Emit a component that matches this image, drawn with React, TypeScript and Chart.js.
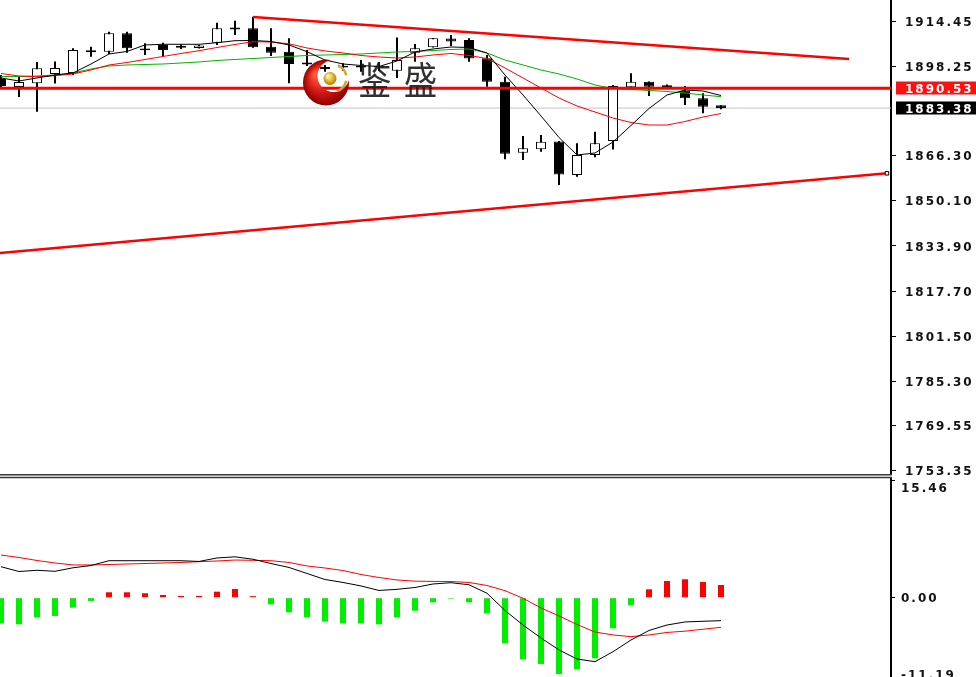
import React, { useEffect, useRef } from 'react';
import { Chart, registerables } from 'chart.js';

Chart.register(...registerables);

// ---------- data ----------
const barIndex = [0, 1, 2, 3, 4, 5, 6, 7, 8, 9, 10, 11, 12, 13, 14, 15, 16, 17, 18, 19, 20, 21, 22, 23, 24, 25, 26, 27, 28, 29, 30, 31, 32, 33, 34, 35, 36, 37, 38, 39, 40];
const openPrices = [1893.82, 1890.95, 1892.28, 1895.61, 1895.97, 1903.40, 1903.61, 1910.22, 1904.80, 1906.02, 1905.75, 1904.94, 1906.84, 1911.60, 1912.01, 1905.41, 1903.61, 1899.75, 1898.10, 1898.60, 1898.60, 1898.60, 1896.80, 1903.26, 1905.19, 1908.35, 1907.81, 1901.25, 1892.85, 1867.37, 1868.59, 1871.39, 1859.37, 1866.55, 1871.57, 1890.84, 1892.85, 1890.95, 1889.62, 1886.89, 1884.40];
const highPrices = [1895.25, 1894.64, 1899.92, 1900.10, 1904.83, 1905.41, 1910.79, 1910.79, 1906.63, 1906.84, 1906.20, 1906.02, 1914.02, 1914.74, 1916.17, 1912.01, 1908.42, 1904.22, 1898.84, 1899.45, 1900.64, 1899.92, 1908.71, 1906.38, 1908.53, 1909.61, 1908.42, 1902.43, 1894.64, 1873.37, 1873.73, 1871.57, 1870.75, 1874.91, 1891.67, 1895.86, 1892.92, 1891.84, 1891.31, 1888.69, 1884.40];
const lowPrices = [1890.59, 1887.36, 1882.09, 1892.20, 1895.25, 1901.82, 1902.79, 1903.26, 1902.43, 1901.82, 1904.58, 1904.76, 1906.02, 1909.61, 1905.05, 1902.07, 1892.28, 1898.48, 1896.44, 1896.80, 1896.44, 1896.69, 1894.18, 1900.03, 1905.12, 1905.66, 1900.03, 1891.06, 1865.01, 1864.76, 1867.73, 1855.78, 1858.76, 1865.72, 1868.52, 1890.12, 1887.72, 1890.77, 1884.49, 1881.51, 1882.95];
const closePrices = [1891.31, 1892.74, 1897.66, 1897.77, 1904.22, 1904.10, 1910.22, 1904.83, 1904.10, 1904.22, 1905.05, 1905.84, 1912.01, 1912.30, 1905.19, 1903.26, 1899.20, 1899.05, 1897.40, 1897.90, 1897.90, 1897.90, 1900.64, 1904.83, 1908.42, 1907.27, 1901.17, 1892.85, 1867.02, 1868.95, 1871.32, 1859.55, 1866.55, 1870.75, 1891.31, 1892.85, 1891.06, 1891.60, 1886.89, 1883.88, 1883.38];

const maFast = [1894.18, 1893.10, 1894.18, 1895.25, 1895.97, 1899.20, 1902.79, 1903.69, 1906.02, 1906.27, 1906.27, 1906.27, 1906.84, 1907.56, 1907.63, 1907.27, 1906.02, 1903.61, 1900.64, 1899.20, 1898.66, 1898.30, 1900.28, 1903.51, 1904.58, 1905.30, 1905.12, 1903.15, 1895.25, 1888.08, 1880.54, 1872.83, 1866.55, 1867.27, 1871.21, 1877.13, 1883.23, 1888.08, 1889.87, 1889.51, 1887.90];
const maMid = [1895.79, 1894.89, 1894.64, 1895.00, 1895.61, 1897.05, 1898.84, 1899.74, 1900.82, 1901.89, 1902.97, 1903.97, 1905.12, 1906.20, 1907.20, 1907.09, 1906.45, 1904.94, 1903.87, 1903.15, 1902.25, 1901.71, 1901.35, 1901.71, 1902.43, 1902.97, 1902.25, 1901.17, 1897.77, 1894.18, 1890.59, 1887.00, 1884.13, 1881.98, 1879.82, 1878.21, 1877.31, 1877.31, 1878.57, 1880.18, 1881.44];
const maSlow = [1894.72, 1894.72, 1894.89, 1895.25, 1895.97, 1897.41, 1898.48, 1898.84, 1899.02, 1899.20, 1899.56, 1899.92, 1900.46, 1900.82, 1901.17, 1901.53, 1901.89, 1902.25, 1902.43, 1902.61, 1902.79, 1903.15, 1903.51, 1903.69, 1904.04, 1904.40, 1904.58, 1903.15, 1900.64, 1898.84, 1897.05, 1895.61, 1893.82, 1891.67, 1890.41, 1890.05, 1889.69, 1889.33, 1888.80, 1888.08, 1887.47];

const priceTicks = [1914.45, 1898.25, 1866.30, 1850.10, 1833.90, 1817.70, 1801.50, 1785.30, 1769.55, 1753.35];
const resistanceLevel = 1890.53;
const lastPrice = 1883.38;
const upperTrendBars = [14, 47.11];
const upperTrendPrices = [1916.06, 1900.99];
const lowerTrendBars = [-0.06, 49.22];
const lowerTrendPrices = [1831.39, 1859.98];

const macdHist = [-3.37, -3.50, -2.58, -2.40, -1.31, -0.43, 0.71, 0.71, 0.58, 0.35, 0.22, 0.22, 0.79, 1.14, 0.20, -0.87, -1.92, -2.58, -3.15, -3.37, -3.37, -3.50, -2.58, -1.71, -0.61, -0.13, -0.61, -2.05, -6.00, -8.10, -8.71, -10.03, -9.41, -7.96, -4.02, -0.96, 1.10, 2.19, 2.42, 2.06, 1.67];
const macdMain = [4.07, 3.44, 3.60, 3.47, 3.93, 4.23, 4.86, 4.86, 4.86, 4.86, 4.86, 4.76, 5.22, 5.37, 5.05, 4.49, 3.97, 3.18, 2.39, 2.00, 1.54, 0.95, 1.10, 1.34, 1.80, 1.97, 1.70, 0.58, -1.68, -3.59, -5.30, -6.87, -8.06, -8.41, -7.10, -5.56, -4.31, -3.59, -3.19, -3.10, -3.02];
const macdSignal = [5.61, 5.28, 4.89, 4.56, 4.30, 4.30, 4.36, 4.43, 4.49, 4.56, 4.63, 4.73, 4.82, 4.95, 4.91, 4.86, 4.63, 4.17, 3.90, 3.57, 3.05, 2.65, 2.33, 2.17, 2.14, 2.12, 2.00, 1.60, 0.92, -0.08, -1.35, -2.40, -3.52, -4.51, -4.90, -5.12, -4.90, -4.57, -4.40, -4.15, -3.89];
const macdTicks = [15.46, 0, -11.19];

// ---------- styling helpers ----------
const AXIS_FONT = { family: 'DejaVu Sans', size: 12, weight: 'bold' as const };
const AXIS_FONT_STR = 'bold 12px "DejaVu Sans"';
const X_MIN = -1 / 18;
const X_MAX = 890 / 18;

const pts = (ys: number[]) => barIndex.map((i) => ({ x: i, y: ys[i] }));

const mainPlugin = {
  id: 'mainDecor',
  beforeDraw(chart: any) {
    chart.ctx.letterSpacing = '2px';
  },
  afterDatasetsDraw(chart: any) {
    const ctx = chart.ctx;
    // watermark logo (transparent inner part)
    ctx.save();
    ctx.letterSpacing = '0px';
    const cx = 326, cy = 82.5, r = 23;
    ctx.beginPath();
    ctx.arc(cx, cy, r, 0, Math.PI * 2);
    ctx.clip();
    const g = ctx.createRadialGradient(316, 74, 2, cx, cy, r);
    g.addColorStop(0, '#ff5a40');
    g.addColorStop(0.55, '#d41a14');
    g.addColorStop(1, '#8c0000');
    ctx.fillStyle = g;
    ctx.beginPath();
    ctx.rect(cx - r - 2, cy - r - 2, 2 * r + 4, 2 * r + 4);
    ctx.arc(333.5, 76, 16, 0, Math.PI * 2, true);
    ctx.fill('evenodd');
    ctx.restore();

    ctx.save();
    ctx.letterSpacing = '0px';
    const gg = ctx.createRadialGradient(328, 76, 1, 330, 78, 7);
    gg.addColorStop(0, '#fff2a0');
    gg.addColorStop(0.6, '#d9ae2a');
    gg.addColorStop(1, '#a67c00');
    ctx.fillStyle = gg;
    ctx.beginPath();
    ctx.arc(330, 78.5, 6.5, 0, Math.PI * 2);
    ctx.fill();
    ctx.strokeStyle = '#d4a52a';
    ctx.lineWidth = 2.5;
    ctx.beginPath();
    ctx.arc(333, 78, 13.5, -1.2, -0.2);
    ctx.stroke();
    ctx.beginPath();
    ctx.arc(333, 78, 13.5, 0.2, 1.3);
    ctx.stroke();
    ctx.restore();

    // watermark text
    ctx.save();
    ctx.letterSpacing = '14px';
    ctx.font = '38px "Noto Sans CJK SC"';
    ctx.fillStyle = 'rgba(30,30,30,0.92)';
    ctx.textBaseline = 'middle';
    ctx.textAlign = 'left';
    ctx.translate(358, 80);
    ctx.scale(0.88, 1);
    ctx.fillText('鉴盛', 0, 0);
    ctx.restore();
  },
  afterDraw(chart: any) {
    const ctx = chart.ctx;
    const area = chart.chartArea;
    const ys = chart.scales.y;
    ctx.save();
    ctx.strokeStyle = '#3a3a3a';
    ctx.lineWidth = 1.5;
    ctx.beginPath();
    ctx.moveTo(0, area.bottom + 0.75);
    ctx.lineTo(area.right + 1, area.bottom + 0.75);
    ctx.stroke();

    ctx.letterSpacing = '2px';
    ctx.font = AXIS_FONT_STR;
    ctx.textBaseline = 'middle';
    ctx.textAlign = 'left';
    const boxes: [number, string][] = [
      [resistanceLevel, '#ff1010'],
      [lastPrice, '#000000'],
    ];
    boxes.forEach(([v, col]) => {
      const y = ys.getPixelForValue(v);
      ctx.fillStyle = col;
      ctx.fillRect(896, Math.round(y) - 6.5, 82, 13);
      ctx.fillStyle = '#ffffff';
      ctx.fillText(v.toFixed(2), 905, y + 1.5);
    });
    ctx.restore();
    ctx.letterSpacing = '0px';
  },
};

const macdPlugin = {
  id: 'macdDecor',
  afterDraw(chart: any) {
    const ctx = chart.ctx;
    const area = chart.chartArea;
    const ys = chart.scales.y;
    ctx.save();
    ctx.strokeStyle = '#3a3a3a';
    ctx.lineWidth = 1.5;
    ctx.beginPath();
    ctx.moveTo(0, area.top - 0.5);
    ctx.lineTo(area.right + 1, area.top - 0.5);
    ctx.stroke();
    ctx.letterSpacing = '2px';
    ctx.font = AXIS_FONT_STR;
    ctx.fillStyle = '#111';
    ctx.textBaseline = 'middle';
    ctx.textAlign = 'left';
    const shift = [8.4, 1.5, -6.8];
    macdTicks.forEach((v, i) => {
      const y = ys.getPixelForValue(v) + shift[i];
      ctx.fillText(v.toFixed(2), 901, y);
    });
    ctx.restore();
    ctx.letterSpacing = '0px';
  },
};

function mainConfig(): any {
  const bodyColors = barIndex.map((i) => (closePrices[i] >= openPrices[i] ? '#ffffff' : '#000000'));
  return {
    type: 'bar',
    data: {
      datasets: [
        {
          type: 'line', label: 'Bid', data: [{ x: -1, y: lastPrice }, { x: 60, y: lastPrice }],
          borderColor: '#c4c4c4', borderWidth: 1, pointRadius: 0, order: 12,
        },
        {
          type: 'bar', label: 'Wick', data: barIndex.map((i) => ({ x: i, y: [lowPrices[i], highPrices[i]] })),
          backgroundColor: '#000', borderWidth: 0, barThickness: 2, grouped: false, inflateAmount: 0, order: 11,
        },
        {
          type: 'bar', label: 'Body', data: barIndex.map((i) => ({ x: i, y: [openPrices[i], closePrices[i]] })),
          backgroundColor: bodyColors, borderColor: '#000', borderWidth: 1, borderSkipped: false,
          barThickness: 10, grouped: false, inflateAmount: 0, order: 10,
        },
        { type: 'line', label: 'MA slow', data: pts(maSlow), borderColor: '#00b400', borderWidth: 1, pointRadius: 0, tension: 0, order: 9 },
        { type: 'line', label: 'MA mid', data: pts(maMid), borderColor: '#ff0000', borderWidth: 1, pointRadius: 0, tension: 0, order: 8 },
        { type: 'line', label: 'MA fast', data: pts(maFast), borderColor: '#000000', borderWidth: 1, pointRadius: 0, tension: 0, order: 7 },
        {
          type: 'line', label: 'Support',
          data: lowerTrendBars.map((b, i) => ({ x: b, y: lowerTrendPrices[i] })),
          borderColor: '#ff0000', borderWidth: 2.5, pointRadius: [0, 2.5], pointStyle: 'rect',
          pointBackgroundColor: '#ffffff', pointBorderColor: '#000', pointBorderWidth: 1, order: 4,
        },
        {
          type: 'line', label: 'Resistance trend',
          data: upperTrendBars.map((b, i) => ({ x: b, y: upperTrendPrices[i] })),
          borderColor: '#ff0000', borderWidth: 2.5, pointRadius: 0, order: 3,
        },
        {
          type: 'line', label: 'Level', data: [{ x: -1, y: resistanceLevel }, { x: 60, y: resistanceLevel }],
          borderColor: '#ff0000', borderWidth: 3, pointRadius: 0, order: 2,
        },
      ],
    },
    options: {
      responsive: false,
      maintainAspectRatio: false,
      animation: false,
      events: [],
      layout: { padding: { top: 0, left: 0, right: 0, bottom: 6 }, autoPadding: false },
      plugins: { legend: { display: false }, tooltip: { enabled: false } },
      scales: {
        x: { type: 'linear', display: false, min: X_MIN, max: X_MAX, offset: false },
        y: {
          type: 'linear', position: 'right', min: 1752.09, max: 1922.16,
          afterBuildTicks: (s: any) => { s.ticks = priceTicks.map((v) => ({ value: v })); },
          afterFit: (s: any) => { s.width = 85; s.paddingTop = 0; s.paddingBottom = 0; },
          ticks: { autoSkip: false, padding: 9, labelOffset: 1.5, color: '#111', font: AXIS_FONT, callback: (v: any) => Number(v).toFixed(2) },
          grid: { drawOnChartArea: false, drawTicks: true, tickLength: 5, color: '#000', lineWidth: 1 },
          border: { display: true, color: '#000', width: 2 },
        },
      },
    },
    plugins: [mainPlugin],
  };
}

function macdConfig(): any {
  return {
    type: 'bar',
    data: {
      datasets: [
        {
          type: 'bar', label: 'Histogram', data: pts(macdHist),
          backgroundColor: macdHist.map((v) => (v >= 0 ? '#ff0000' : '#00ee00')),
          borderWidth: 0, barThickness: 6, grouped: false, inflateAmount: 0, order: 5,
        },
        { type: 'line', label: 'Signal', data: pts(macdSignal), borderColor: '#ff0000', borderWidth: 1, pointRadius: 0, tension: 0, order: 4 },
        { type: 'line', label: 'MACD', data: pts(macdMain), borderColor: '#000000', borderWidth: 1, pointRadius: 0, tension: 0, order: 3 },
      ],
    },
    options: {
      responsive: false,
      maintainAspectRatio: false,
      animation: false,
      events: [],
      layout: { padding: { top: 2, left: 0, right: 0, bottom: 0 }, autoPadding: false },
      plugins: { legend: { display: false }, tooltip: { enabled: false } },
      scales: {
        x: { type: 'linear', display: false, min: X_MIN, max: X_MAX, offset: false },
        y: {
          type: 'linear', position: 'right', min: -11.87, max: 15.73,
          afterBuildTicks: (s: any) => { s.ticks = macdTicks.map((v) => ({ value: v })); },
          afterFit: (s: any) => { s.width = 85; s.paddingTop = 0; s.paddingBottom = 0; },
          ticks: { display: false },
          grid: { drawOnChartArea: false, drawTicks: true, tickLength: 4, color: '#000', lineWidth: 1 },
          border: { display: true, color: '#000', width: 2 },
        },
      },
    },
    plugins: [macdPlugin],
  };
}

export default function App() {
  const mainRef = useRef<HTMLCanvasElement>(null);
  const macdRef = useRef<HTMLCanvasElement>(null);

  useEffect(() => {
    document.body.style.margin = '0';
    document.body.style.overflow = 'hidden';
    document.body.style.background = '#fff';
    const c1 = new Chart(mainRef.current as HTMLCanvasElement, mainConfig());
    const c2 = new Chart(macdRef.current as HTMLCanvasElement, macdConfig());
    return () => {
      c1.destroy();
      c2.destroy();
    };
  }, []);

  return (
    <div style={{ position: 'relative', width: 976, height: 677, overflow: 'hidden', background: '#fff' }}>
      <canvas ref={mainRef} width={976} height={480}
        style={{ position: 'absolute', left: 0, top: 0, width: 976, height: 480 }} />
      <canvas ref={macdRef} width={976} height={212}
        style={{ position: 'absolute', left: 0, top: 476, width: 976, height: 212 }} />
    </div>
  );
}
